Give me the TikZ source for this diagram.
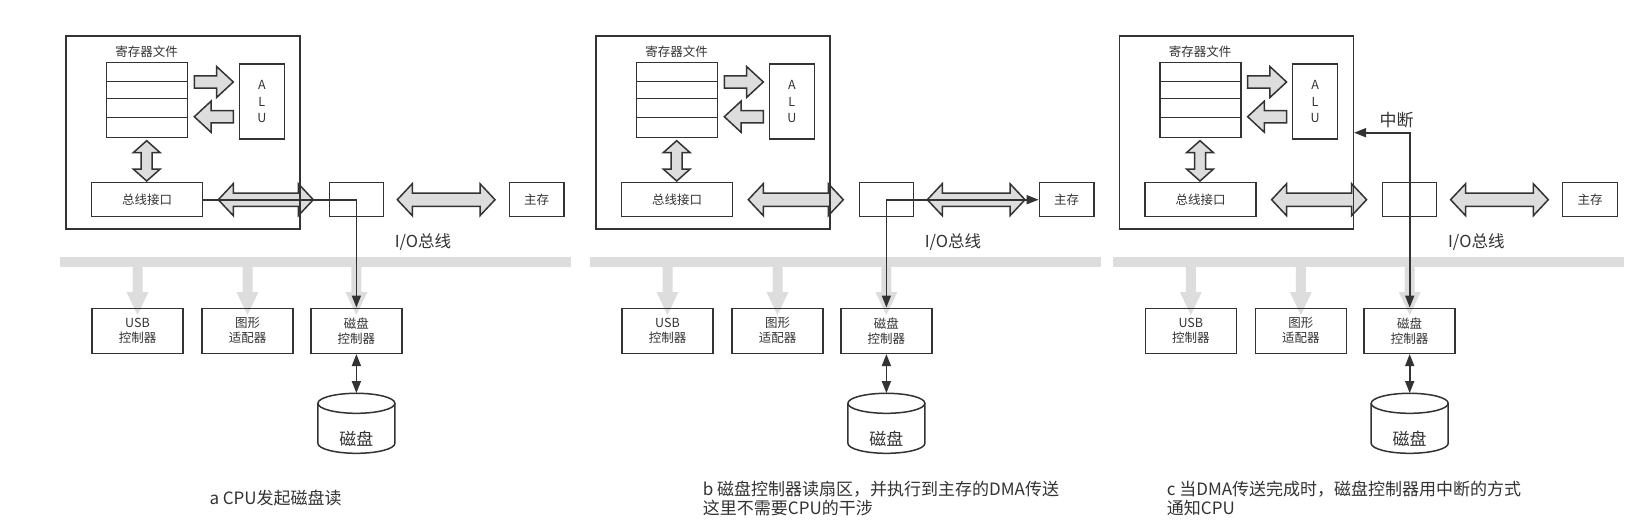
\documentclass[tikz,border=0pt]{standalone}
\usepackage{fontspec}
\setmainfont{Noto Sans CJK SC}
\usetikzlibrary{arrows.meta,calc}
\definecolor{ink}{HTML}{333333}
\definecolor{busgray}{HTML}{DDDDDD}
\tikzset{
  box/.style={draw=ink, line width=1.5pt, inner sep=0pt, text=ink, font=\fontsize{12.5}{15}\selectfont, align=center},
  blockarrow/.style={draw=ink, fill=busgray, line width=1.5pt, line join=miter},
  wire/.style={draw=ink, line width=1.6pt},
  tipend/.style={-{Triangle[length=12pt,width=9pt]}},
  tipboth/.style={{Triangle[length=12pt,width=9pt]}-{Triangle[length=12pt,width=9pt]}},
  smalltext/.style={font=\fontsize{12.5}{15}\selectfont, text=ink, inner sep=0pt},
  bigtext/.style={font=\fontsize{16.5}{19}\selectfont, text=ink, inner sep=0pt},
  captext/.style={font=\fontsize{17}{19}\selectfont, text=ink, inner sep=0pt, align=left, anchor=west},
}
% horizontal double block arrow: x1, x2, y
\newcommand{\blkdh}[3]{%
  \path[blockarrow] (#1,#3) -- ({#1+15},{#3-16}) -- ({#1+15},{#3-6.7}) -- ({#2-15},{#3-6.7}) -- ({#2-15},{#3-16}) -- (#2,#3) -- ({#2-15},{#3+16}) -- ({#2-15},{#3+6.7}) -- ({#1+15},{#3+6.7}) -- ({#1+15},{#3+16}) -- cycle;}
% right block arrow: tail x, tip x, y
\newcommand{\blkr}[3]{%
  \path[blockarrow] (#1,{#3-6.2}) -- ({#2-16.7},{#3-6.2}) -- ({#2-16.7},{#3-15.5}) -- (#2,#3) -- ({#2-16.7},{#3+15.5}) -- ({#2-16.7},{#3+6.2}) -- (#1,{#3+6.2}) -- cycle;}
% left block arrow: tip x, tail x, y
\newcommand{\blkl}[3]{%
  \path[blockarrow] (#2,{#3-6.2}) -- ({#1+16.7},{#3-6.2}) -- ({#1+16.7},{#3-15.5}) -- (#1,#3) -- ({#1+16.7},{#3+15.5}) -- ({#1+16.7},{#3+6.2}) -- (#2,{#3+6.2}) -- cycle;}
% vertical double block arrow: x, y top, y bottom
\newcommand{\blkdv}[3]{%
  \path[blockarrow] (#1,#2) -- ({#1+13.5},{#2+12}) -- ({#1+5.5},{#2+12}) -- ({#1+5.5},{#3-12}) -- ({#1+13.5},{#3-12}) -- (#1,#3) -- ({#1-13.5},{#3-12}) -- ({#1-5.5},{#3-12}) -- ({#1-5.5},{#2+12}) -- ({#1-13.5},{#2+12}) -- cycle;}
% gray branch arrow from bus: x, y top, y tip
\newcommand{\brnch}[3]{%
  \fill[busgray] ({#1-5},#2) -- ({#1-5},{#3-23}) -- ({#1-11},{#3-23}) -- (#1,#3) -- ({#1+11},{#3-23}) -- ({#1+5},{#3-23}) -- ({#1+5},#2) -- cycle;}
% one panel, #1 = name prefix
\newcommand{\drawDMApanel}[1]{%
  \fill[busgray] (60,257.3) rectangle (571,267);
  \brnch{137.5}{266}{315}
  \brnch{247.5}{266}{315}
  \brnch{356.4}{266}{315}
  \blkdh{218.3}{313.3}{199.7}
  \blkdh{397.3}{495}{199.7}
  \blkr{194.3}{233.3}{82}
  \blkl{194.3}{233.3}{116.7}
  \blkdv{146.7}{140.7}{181}
  \node[box, minimum width=234pt, minimum height=193pt] (#1cpu) at (183,132.5) {};
  \node[smalltext] (#1reglbl) at (146.7,51.7) {寄存器文件};
  \node[box, minimum width=81pt, minimum height=74.6pt] (#1reg) at (147.2,100) {};
  \draw[ink, line width=1.5pt] (106.7,81.7) -- (187.7,81.7) (106.7,98.3) -- (187.7,98.3) (106.7,117.7) -- (187.7,117.7);
  \node[box, minimum width=45pt, minimum height=74.6pt, font=\fontsize{12.5}{16.7}\selectfont] (#1alu) at (261.8,101.5) {A\\L\\U};
  \node[box, minimum width=111pt, minimum height=34pt] (#1bif) at (147.2,199.7) {总线接口};
  \node[box, minimum width=54pt, minimum height=34pt] (#1bridge) at (356.3,199.7) {};
  \node[box, minimum width=54.7pt, minimum height=34pt] (#1mem) at (536.7,199.7) {主存};
  \node[bigtext] (#1iolbl) at (423,241.7) {I/O总线};
  \node[box, minimum width=91pt, minimum height=45pt] (#1usb) at (137.5,330.8) {USB\\控制器};
  \node[box, minimum width=91pt, minimum height=45pt] (#1gfx) at (247.5,330.8) {图形\\适配器};
  \node[box, minimum width=91pt, minimum height=45pt] (#1dc) at (356.4,330.8) {磁盘\\控制器};
  \node[minimum width=77pt, minimum height=60pt, inner sep=0pt] (#1disk) at (356.4,423.3) {};
  \draw[ink, line width=1.5pt] (317.9,403.3) -- (317.9,443.3) arc[start angle=180, end angle=0, x radius=38.5, y radius=10] -- (394.9,403.3);
  \draw[ink, line width=1.5pt] (356.4,403.3) ellipse [x radius=38.5, y radius=10];
  \node[bigtext, font=\fontsize{17}{19}\selectfont] (#1disklbl) at (356.4,439) {磁盘};
  \draw[wire, tipboth] (#1dc.south) -- (#1disk.north);
}
\begin{document}
\begin{tikzpicture}[x=1pt, y=-1pt]
\useasboundingbox (0,0) rectangle (1628,531);
\fill[white] (0,0) rectangle (1628,531);
% panel a
\begin{scope}
  \drawDMApanel{a-}
  \draw[wire, tipend] (a-bif.east) -- (a-bif.east -| a-dc.north) -- (a-dc.north);
  \node[captext] (a-cap) at (209.3,498.3) {a CPU发起磁盘读};
\end{scope}
% panel b
\begin{scope}[xshift=530pt]
  \drawDMApanel{b-}
  \draw[wire, tipboth] (b-mem.west) -- (b-mem.west -| b-dc.north) -- (b-dc.north);
  \node[captext] (b-cap) at (172.7,498.8) {b 磁盘控制器读扇区，并执行到主存的DMA传送\\这里不需要CPU的干涉};
\end{scope}
% panel c
\begin{scope}[xshift=1053.3pt]
  \drawDMApanel{c-}
  \coordinate (c-irq) at (356.4,132.7);
  \draw[wire, tipboth] (c-irq -| c-cpu.east) -- (c-irq) -- (c-dc.north);
  \node[bigtext, font=\fontsize{17}{19}\selectfont] (c-irqlbl) at (343.4,120) {中断};
  \node[captext] (c-cap) at (113.4,498.8) {c 当DMA传送完成时，磁盘控制器用中断的方式\\通知CPU};
\end{scope}
\end{tikzpicture}
\end{document}
